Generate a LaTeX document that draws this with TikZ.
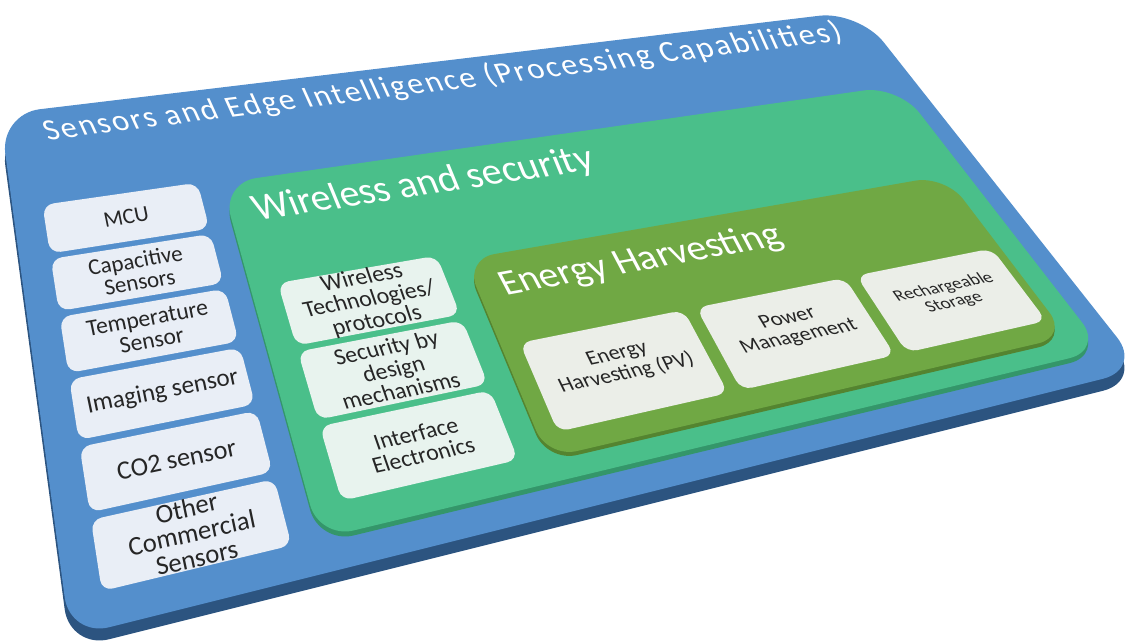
\documentclass[tikz,border=0pt]{standalone}
\usepackage{fontspec}
\setmainfont{Carlito}

\definecolor{boardBlue}{RGB}{84,143,204}
\definecolor{boardEdge}{RGB}{44,84,128}
\definecolor{wirelessGreen}{RGB}{74,191,138}
\definecolor{wirelessEdge}{RGB}{52,150,106}
\definecolor{energyGreen}{RGB}{112,168,68}
\definecolor{energyEdge}{RGB}{84,132,48}
\definecolor{sensorFill}{RGB}{233,238,246}
\definecolor{wirelessFill}{RGB}{232,243,238}
\definecolor{energyFill}{RGB}{235,238,232}

% corners of the board, in units of 100px (y runs downwards)
\def\cAx{0.00}\def\cAy{1.14}   % top left
\def\cBx{8.59}\def\cBy{0.11}   % top right
\def\cCx{11.42}\def\cCy{3.69}  % bottom right
\def\cDx{0.70}\def\cDy{6.37}   % bottom left

% perspective map from the unit square (u,v) onto the board
\pgfmathsetmacro\dxA{(\cBx)-(\cCx)}
\pgfmathsetmacro\dxB{(\cDx)-(\cCx)}
\pgfmathsetmacro\dxC{(\cAx)-(\cBx)+(\cCx)-(\cDx)}
\pgfmathsetmacro\dyA{(\cBy)-(\cCy)}
\pgfmathsetmacro\dyB{(\cDy)-(\cCy)}
\pgfmathsetmacro\dyC{(\cAy)-(\cBy)+(\cCy)-(\cDy)}
\pgfmathsetmacro\hoDen{(\dxA)*(\dyB)-(\dxB)*(\dyA)}
\pgfmathsetmacro\hoG{((\dxC)*(\dyB)-(\dxB)*(\dyC))/(\hoDen)}
\pgfmathsetmacro\hoH{((\dxA)*(\dyC)-(\dxC)*(\dyA))/(\hoDen)}
\pgfmathsetmacro\hoA{(\cBx)-(\cAx)+(\hoG)*(\cBx)}
\pgfmathsetmacro\hoB{(\cDx)-(\cAx)+(\hoH)*(\cDx)}
\pgfmathsetmacro\hoC{\cAx}
\pgfmathsetmacro\hoD{(\cBy)-(\cAy)+(\hoG)*(\cBy)}
\pgfmathsetmacro\hoE{(\cDy)-(\cAy)+(\hoH)*(\cDy)}
\pgfmathsetmacro\hoF{\cAy}

\newcommand\boardmap[2]{%
  \pgfmathsetmacro\bdW{(\hoG)*(#1)+(\hoH)*(#2)+1}%
  \pgfmathsetmacro\bdX{((\hoA)*(#1)+(\hoB)*(#2)+(\hoC))/(\bdW)}%
  \pgfmathsetmacro\bdY{((\hoD)*(#1)+(\hoE)*(#2)+(\hoF))/(\bdW)}}

\pgfkeys{/board/u/.store in=\bdU,/board/v/.store in=\bdV}
\tikzdeclarecoordinatesystem{board}{%
  \pgfqkeys{/board}{#1}%
  \boardmap{\bdU}{\bdV}%
  \pgfpointxy{\bdX}{\bdY}}

% a rounded rectangle of the board plane
\newcommand\boardrect[5]{%
  \path[#1] (board cs:u=#2,v=#3) -- (board cs:u=#4,v=#3)
    -- (board cs:u=#4,v=#5) -- (board cs:u=#2,v=#5) -- cycle;}

% a text lying in the board plane
\newcommand\boardlabel[5]{%
  \boardmap{#3}{#4}\let\lbX\bdX\let\lbY\bdY
  \boardmap{#3+0.02}{#4}%
  \pgfmathsetmacro\lbAx{\bdX-\lbX}\pgfmathsetmacro\lbAy{\lbY-\bdY}%
  \boardmap{#3}{#4-0.02}%
  \pgfmathsetmacro\lbBx{\bdX-\lbX}\pgfmathsetmacro\lbBy{\lbY-\bdY}%
  \pgfmathsetmacro\lbA{veclen(\lbAx,\lbAy)}%
  \pgfmathsetmacro\lbB{veclen(\lbBx,\lbBy)}%
  \pgfmathsetmacro\cmA{\lbAx/\lbA}\pgfmathsetmacro\cmB{\lbAy/\lbA}%
  \pgfmathsetmacro\cmC{\lbBx/\lbB}\pgfmathsetmacro\cmD{\lbBy/\lbB}%
  \begin{scope}[shift={(\lbX,\lbY)}]
    \node[#2,cm={\cmA,\cmB,\cmC,\cmD,(0,0)}] (#1) at (0,0) {#5};
  \end{scope}}

\begin{document}
\begin{tikzpicture}[x=2cm,y=-2cm,
    boardtop/.style={fill=boardBlue,rounded corners=0.8cm},
    boardside/.style={fill=boardEdge,rounded corners=0.8cm,shift={(0,0.12)}},
    greentop/.style={fill=wirelessGreen,rounded corners=0.7cm},
    greenside/.style={fill=wirelessEdge,rounded corners=0.7cm,shift={(0,0.05)}},
    olivetop/.style={fill=energyGreen,rounded corners=0.6cm},
    oliveside/.style={fill=energyEdge,rounded corners=0.6cm,shift={(0,0.04)}},
    sensorbox/.style={fill=sensorFill,rounded corners=0.22cm},
    wirelessbox/.style={fill=wirelessFill,rounded corners=0.22cm},
    energybox/.style={fill=energyFill,rounded corners=0.22cm},
    boxtext/.style={align=center,inner sep=0pt,text=black!85},
    title/.style={inner sep=0pt,text=white}]

\useasboundingbox (0,0) rectangle (11.39,6.42);

% board and its edge
\boardrect{boardside}{0}{0}{1}{1}
\boardrect{boardtop}{0}{0}{1}{1}

% wireless and security area
\boardrect{greenside}{0.19}{0.242}{0.975}{0.947}
\boardrect{greentop}{0.19}{0.242}{0.975}{0.947}

% sensors column
\foreach \name/\txt/\fs [count=\i from 0] in {mcu/MCU/12.7,
    cap/{Capacitive\\Sensors}/13, temp/{Temperature\\Sensor}/13.4,
    imaging/{Imaging sensor}/14.3, co2/{CO2 sensor}/15,
    other/{Other\\Commercial\\Sensors}/15.2}{
  \pgfmathsetmacro\vtop{0.233+0.121*\i}
  \pgfmathsetmacro\vbot{\vtop+0.109}
  \pgfmathsetmacro\vmid{\vtop+0.0545}
  \pgfmathsetmacro\bs{0.95*\fs}
  \boardrect{sensorbox}{0.026}{\vtop}{0.168}{\vbot}
  \boardlabel{\name}{boxtext,font=\fontsize{\fs}{\bs}\selectfont}{0.097}{\vmid}{\txt}
}

% wireless column
\foreach \name/\txt [count=\i from 0] in {wireless/{Wireless\\Technologies/\\protocols},
    security/{Security by\\design\\mechanisms}, interface/{Interface\\Electronics}}{
  \pgfmathsetmacro\vtop{0.482+0.1423*\i}
  \pgfmathsetmacro\vbot{\vtop+0.1303}
  \pgfmathsetmacro\vmid{\vtop+0.067}
  \boardrect{wirelessbox}{0.215}{\vtop}{0.367}{\vbot}
  \boardlabel{\name}{boxtext,font=\fontsize{13.4}{13}\selectfont}{0.291}{\vmid}{\txt}
}

% energy harvesting area
\boardrect{oliveside}{0.392}{0.50}{0.948}{0.905}
\boardrect{olivetop}{0.392}{0.50}{0.948}{0.905}
\foreach \name/\txt/\fs [count=\i from 0] in {pv/{Energy\\Harvesting (PV)}/12.4,
    power/{Power\\Management}/12.2, storage/{Rechargeable\\Storage}/10.3}{
  \pgfmathsetmacro\uleft{0.41+0.1805*\i}
  \pgfmathsetmacro\uright{\uleft+0.167}
  \pgfmathsetmacro\umid{\uleft+0.0835}
  \pgfmathsetmacro\bs{1.0*\fs}
  \boardrect{energybox}{\uleft}{0.69}{\uright}{0.865}
  \boardlabel{\name}{boxtext,font=\fontsize{\fs}{\bs}\selectfont}{\umid}{0.77}{\txt}
}

% titles
\boardlabel{sensorsTitle}{title,font=\fontsize{18}{20}\selectfont\addfontfeature{LetterSpace=7}}{0.447}{0.06}{Sensors and Edge Intelligence (Processing Capabilities)}
\boardlabel{wirelessTitle}{title,font=\fontsize{22.5}{24}\selectfont}{0.382}{0.318}{Wireless and security}
\boardlabel{energyTitle}{title,font=\fontsize{22}{24}\selectfont}{0.561}{0.571}{Energy Harvesting}

\end{tikzpicture}
\end{document}
